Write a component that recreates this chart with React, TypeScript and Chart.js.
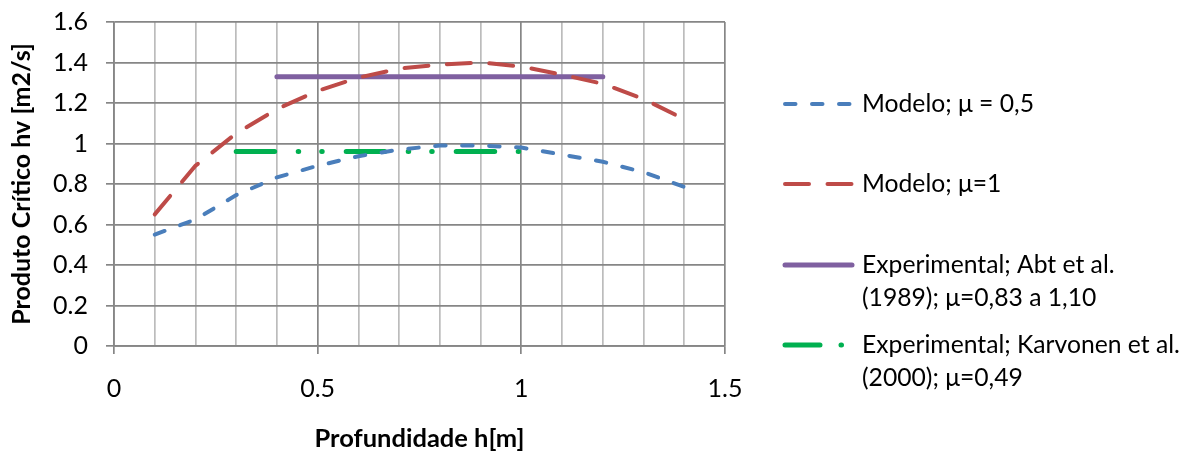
import { useEffect, useRef } from 'react';
import { Chart, registerables } from 'chart.js';

Chart.register(...registerables);

// ---- data ----
const depthModel = [0.1, 0.2, 0.3, 0.4, 0.5, 0.6, 0.7, 0.8, 0.9, 1.0, 1.1, 1.2, 1.3, 1.4];
const modelMu05 = [0.55, 0.625, 0.745, 0.833, 0.89, 0.937, 0.97, 0.99, 0.99, 0.98, 0.945, 0.91, 0.858, 0.786];
const modelMu1 = [0.65, 0.89, 1.05, 1.17, 1.26, 1.325, 1.37, 1.39, 1.4, 1.38, 1.34, 1.295, 1.22, 1.12];
const abtDepth = [0.4, 1.2];
const abtValues = [1.33, 1.33];
const karvonenDepth = [0.3, 1.0];
const karvonenValues = [0.96, 0.96];

const xTickLabels = ['0', '0.5', '1', '1.5'];
const yTickLabels = ['0', '0.2', '0.4', '0.6', '0.8', '1', '1.2', '1.4', '1.6'];

const seriesNames = [
  ['Modelo; μ = 0,5'],
  ['Modelo; μ=1'],
  ['Experimental; Abt et al.', '(1989); μ=0,83 a 1,10'],
  ['Experimental; Karvonen et al.', '(2000); μ=0,49'],
];

const xTitle = 'Profundidade h[m]';
const yTitle = 'Produto Crítico hv [m2/s]';

const FONT = 'Lato';
const MAJOR = '#868686';
const MINOR = '#bcbcbc';

const toPoints = (xs: number[], ys: number[]) => xs.map((x, i) => ({ x, y: ys[i] }));

const legendPlugin = {
  id: 'customLegend',
  afterDraw(chart: any, _args: any, opts: any) {
    const ctx = chart.ctx as CanvasRenderingContext2D;
    const rows: number[] = opts.rows;
    ctx.save();
    chart.data.datasets.forEach((ds: any, i: number) => {
      const y = rows[i];
      ctx.beginPath();
      ctx.strokeStyle = ds.borderColor;
      ctx.lineWidth = ds.borderWidth;
      ctx.lineCap = 'round';
      ctx.setLineDash(ds.legendDash || ds.borderDash || []);
      ctx.moveTo(opts.x0, y);
      ctx.lineTo(opts.x1, y);
      ctx.stroke();
      ctx.setLineDash([]);
      ctx.fillStyle = '#000';
      ctx.font = `${opts.fontSize}px ${FONT}`;
      ctx.textBaseline = 'middle';
      ctx.textAlign = 'left';
      (seriesNames[i] || []).forEach((line, j) => {
        ctx.fillText(line, opts.textX, y + j * opts.lineHeight);
      });
    });
    ctx.restore();
  },
};

export default function App() {
  const canvasRef = useRef<HTMLCanvasElement | null>(null);

  useEffect(() => {
    document.body.style.margin = '0';
    const canvas = canvasRef.current;
    if (!canvas) return;
    const isMajorX = (v: number) => Math.round(v * 10) % 5 === 0;

    const chart = new Chart(canvas, {
      type: 'line',
      data: {
        datasets: [
          {
            label: seriesNames[0].join(' '),
            data: toPoints(depthModel, modelMu05),
            borderColor: '#4a7ebb',
            borderWidth: 4,
            borderDash: [10.5, 16.5],
            borderCapStyle: 'round',
            pointRadius: 0,
            tension: 0,
            fill: false,
          },
          {
            label: seriesNames[1].join(' '),
            data: toPoints(depthModel, modelMu1),
            borderColor: '#be4b48',
            borderWidth: 4,
            borderDash: [24, 18.5],
            borderCapStyle: 'round',
            pointRadius: 0,
            tension: 0,
            fill: false,
          },
          {
            label: seriesNames[2].join(' '),
            data: toPoints(abtDepth, abtValues),
            borderColor: '#7f60a0',
            borderWidth: 5,
            borderCapStyle: 'round',
            pointRadius: 0,
            fill: false,
          },
          {
            label: seriesNames[3].join(' '),
            data: toPoints(karvonenDepth, karvonenValues),
            borderColor: '#00b050',
            borderWidth: 5,
            borderDash: [38.5, 23.5, 0.5, 23, 0.5, 24],
            legendDash: [35, 21, 0.5, 100],
            borderCapStyle: 'round',
            pointRadius: 0,
            fill: false,
          } as any,
        ],
      },
      options: {
        responsive: false,
        animation: false,
        events: [],
        layout: { padding: { top: 22, right: 461, left: 0, bottom: 0 } },
        plugins: {
          legend: { display: false },
          tooltip: { enabled: false },
          customLegend: {
            x0: 785,
            x1: 852,
            textX: 862,
            rows: [104, 184, 265, 345],
            lineHeight: 33,
            fontSize: 24.7,
          },
        } as any,
        scales: {
          x: {
            type: 'linear',
            min: 0,
            max: 1.5,
            afterFit: (scale: any) => {
              scale.height = 108;
              scale.paddingLeft = 0;
              scale.paddingRight = 0;
            },
            ticks: {
              stepSize: 0.1,
              autoSkip: false,
              maxRotation: 0,
              padding: 20,
              color: '#000',
              font: { family: FONT, size: 25 },
              callback: (v: any) => {
                const n = Math.round(Number(v) * 10);
                return n % 5 === 0 ? xTickLabels[n / 5] : '';
              },
            },
            grid: {
              color: (c: any) => (c.tick && isMajorX(c.tick.value) ? MAJOR : MINOR),
              tickColor: (c: any) => (c.tick && isMajorX(c.tick.value) ? MAJOR : 'rgba(0,0,0,0)'),
              lineWidth: 1.7,
              tickLength: 8,
            },
            border: { color: MAJOR, width: 1.7 },
            title: {
              display: true,
              text: xTitle,
              color: '#000',
              font: { family: FONT, size: 25.5, weight: 'bold' },
              padding: { top: 0, bottom: 0 },
            },
          },
          y: {
            type: 'linear',
            min: 0,
            max: 1.6,
            afterFit: (scale: any) => {
              scale.width = 114;
              scale.paddingTop = 0;
              scale.paddingBottom = 0;
            },
            ticks: {
              stepSize: 0.2,
              padding: 18,
              color: '#000',
              font: { family: FONT, size: 25 },
              callback: (v: any) => yTickLabels[Math.round(Number(v) * 5)] ?? '',
            },
            grid: {
              color: MAJOR,
              tickColor: MAJOR,
              lineWidth: 1.7,
              tickLength: 8,
            },
            border: { color: MAJOR, width: 1.7 },
            title: {
              display: true,
              text: yTitle,
              color: '#000',
              font: { family: FONT, size: 25, weight: 'bold' },
              padding: { top: 7, bottom: 0 },
            },
          },
        },
      } as any,
      plugins: [legendPlugin],
    });

    return () => {
      chart.destroy();
    };
  }, []);

  return (
    <div style={{ width: 1186, height: 454 }}>
      <canvas ref={canvasRef} width={1186} height={454} />
    </div>
  );
}
